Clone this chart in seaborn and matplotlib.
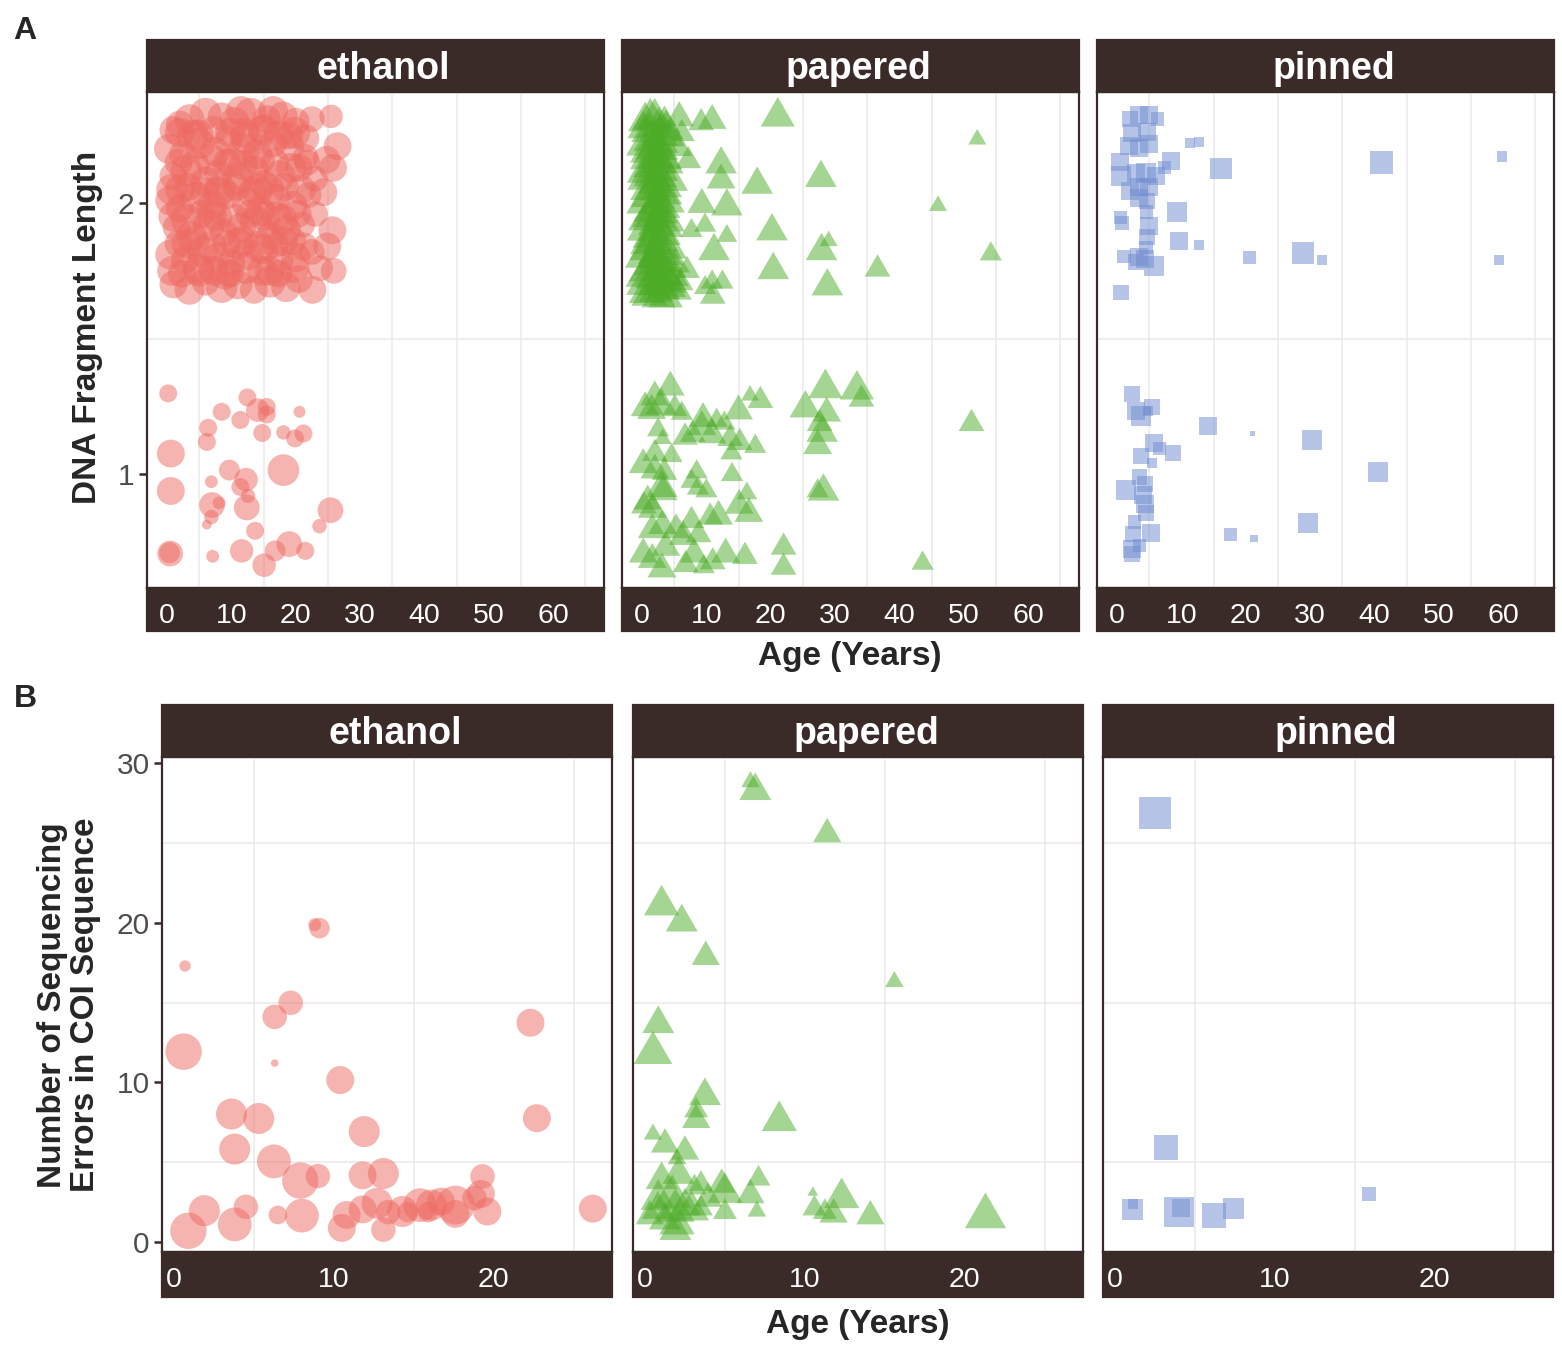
import numpy as np
import pandas as pd
import matplotlib
matplotlib.use("Agg")
import matplotlib.pyplot as plt
from matplotlib.patches import Rectangle
import seaborn as sns

# ---------------- data ----------------
storage = ["ethanol", "papered", "pinned"]
colors = {"ethanol": "#EE6A62", "papered": "#4CAC26", "pinned": "#6F8CD0"}

# Panel A: DNA fragment length class (1 / 2, jittered) vs age
eth_a_age = [1.0, 3.5, 6.0, 8.5, 10.5, 13.0, 15.5, 18.0, 20.0, 22.5, 25.5,
             0.3, 2.5, 5.0, 7.5, 9.5, 12.0, 14.0, 16.5, 19.0, 21.5, 26.5,
             1.0, 3.0, 6.0, 8.0, 11.0, 13.5, 15.0, 17.5, 20.5, 23.0, 25.8,
             0.5, 2.0, 4.5, 7.0, 9.5, 12.5, 14.5, 17.0, 19.5, 22.0, 24.3,
             1.5, 3.8, 6.5, 8.8, 11.5, 13.8, 16.0, 18.5, 21.0, 25.7,
             0.5, 2.8, 5.5, 8.0, 10.0, 12.5, 15.0, 17.5, 20.0, 22.5, 24.9,
             1.0, 3.5, 6.0, 8.5, 11.0, 13.5, 16.0, 18.5, 20.5, 22.6, 25.9,
             4.0, 10.0, 14.0, 7.0, 11.0, 16.0, 19.0, 5.0, 12.0, 9.0, 2.0, 17.0, 15.0, 3.0, 19.5, 8.0,
             2.0, 4.8, 7.3, 9.8, 12.3, 14.8, 17.3, 19.8, 21.5,
             1.8, 4.3, 6.8, 9.3, 11.8, 14.3, 16.8, 19.3, 21.8, 24.8,
             0.8, 3.3, 5.8, 8.3, 10.8, 13.3, 15.8, 18.3, 20.8,
             1.0, 3.0, 5.3, 7.8, 10.3, 12.8, 15.3, 17.8, 20.3, 23.0,
             1.8, 4.3, 6.8, 9.3, 11.8, 14.3, 16.8, 18.0, 21.3,
             0.8, 2.3, 4.8, 7.3, 9.8, 12.3, 14.8, 17.3, 19.8, 23.8,
             2.0, 11.5, 16.5,
             0.2, 8.5, 12.5, 14.1, 15.5, 15.5, 20.6, 6.4, 11.4, 6.2, 14.8, 18.1, 19.9, 21.2, 0.6,
             9.7, 12.3, 11.4, 12.6, 18.1, 6.9, 0.6, 7.0, 8.1, 12.4, 6.9, 6.2, 25.4, 23.7, 13.7,
             0.5, 0.4, 7.1, 11.6, 16.8, 19.0, 21.5, 15.1]
eth_a_len = [2.27, 2.31, 2.33, 2.32, 2.30, 2.33, 2.31, 2.32, 2.30, 2.31, 2.32,
             2.20, 2.18, 2.22, 2.19, 2.23, 2.20, 2.18, 2.22, 2.21, 2.17, 2.21,
             2.10, 2.12, 2.08, 2.11, 2.09, 2.12, 2.07, 2.10, 2.13, 2.09, 2.13,
             2.01, 1.98, 2.02, 1.99, 2.03, 2.00, 1.97, 2.02, 1.99, 2.03, 2.04,
             1.91, 1.88, 1.92, 1.89, 1.91, 1.93, 1.88, 1.90, 1.92, 1.90,
             1.81, 1.79, 1.82, 1.80, 1.78, 1.81, 1.83, 1.79, 1.80, 1.82, 1.84,
             1.70, 1.68, 1.71, 1.69, 1.70, 1.68, 1.71, 1.69, 1.72, 1.68, 1.75,
             2.25, 2.15, 2.05, 1.95, 1.85, 1.75, 2.25, 1.75, 2.26, 1.74, 2.05, 1.95, 2.27, 1.85, 1.86, 2.04,
             2.26, 2.25, 2.27, 2.26, 2.24, 2.27, 2.25, 2.26, 2.24,
             2.15, 2.14, 2.16, 2.15, 2.14, 2.16, 2.15, 2.13, 2.15, 2.16,
             2.05, 2.06, 2.04, 2.05, 2.06, 2.04, 2.05, 2.06, 2.05,
             1.95, 1.94, 1.96, 1.95, 1.94, 1.96, 1.95, 1.94, 1.96, 1.96,
             1.85, 1.86, 1.84, 1.85, 1.86, 1.84, 1.85, 1.86, 1.84,
             1.75, 1.74, 1.76, 1.75, 1.74, 1.76, 1.75, 1.74, 1.76, 1.76,
             2.29, 2.34, 2.34,
             1.298, 1.23, 1.283, 1.236, 1.248, 1.22, 1.23, 1.171, 1.2, 1.119, 1.152, 1.154, 1.132, 1.15, 1.076,
             1.015, 0.98, 0.953, 0.92, 1.015, 0.972, 0.938, 0.886, 0.894, 0.877, 0.842, 0.814, 0.867, 0.808, 0.791,
             0.707, 0.71, 0.697, 0.717, 0.717, 0.742, 0.717, 0.664]
eth_a_w = [4, 4.5, 5, 4, 4.5, 5, 4, 4.5, 4, 3.5, 3,
           4.5, 4, 5, 4.5, 4, 5, 4.5, 4, 4.5, 3.5, 4,
           4, 5, 4.5, 4, 5, 4.5, 4, 5, 4, 3.5, 4,
           4.5, 4, 5, 4.5, 4, 5, 4.5, 4, 4.5, 3.5, 4,
           4, 4.5, 5, 4, 4.5, 5, 4, 4.5, 3.5, 4,
           4.5, 4, 5, 4.5, 4, 5, 4.5, 4, 4.5, 3.5, 4,
           4, 4.5, 4, 5, 4.5, 4, 5, 4.5, 4, 4, 3.5,
           5, 4.5, 5, 4.5, 5, 4.5, 4, 5, 4.5, 5, 4.5, 4.5, 5, 4.5, 4, 5,
           4.5, 5, 4, 4.5, 5, 4, 4.5, 5, 4,
           4, 4.5, 5, 4, 4.5, 5, 4, 4.5, 3.5, 4,
           5, 4, 4.5, 5, 4, 4.5, 5, 4, 4.5,
           4.5, 5, 4, 4.5, 5, 4, 4.5, 5, 4, 3.5,
           4, 4.5, 5, 4, 4.5, 5, 4, 4.5, 4,
           4.5, 4, 5, 4.5, 4, 5, 4.5, 4, 4.5, 3.5,
           4, 4.5, 4.5,
           2, 2, 2, 3, 2, 2, 1.2, 2, 2, 2, 2, 1.5, 2, 2, 4,
           2.5, 3, 2, 1.5, 5, 1.3, 4, 3.5, 1.3, 3.5, 1.5, 1, 3.5, 1.5, 2,
           3.5, 2.5, 1.3, 3, 2.5, 3.5, 2, 3]

pap_a_age = [0.5, 2.0, 3.5, 1.0, 2.8, 4.2, 0.2, 1.8, 3.2, 0.8, 2.5, 4.0, 0.3, 1.5, 3.0,
             4.5, 1.0, 2.2, 3.6, 0.4, 2.0, 3.3, 1.2, 2.7, 4.0, 0.5, 1.9, 3.4, 1.0, 2.5,
             4.3, 0.2, 1.7, 3.0, 0.8, 2.3, 3.8, 0.4, 1.9, 3.3, 5.0, 1.2, 2.6, 4.6,
             1.3, 2.6, 0.2, 3.8, 1.5, 3.0, 0.6, 2.2, 3.6, 1.2, 2.8, 0.2, 2.0, 3.4, 0.9,
             2.6, 4.0, 1.5, 3.0, 0.3, 2.2, 3.7, 1.2, 2.8, 0.5, 2.0, 3.5, 1.3, 2.8, 4.2,
             0.3, 1.6, 3.0, 4.5, 0.8, 2.2, 3.7, 5.5, 5.2, 5.6,
             21.1, 52.1, 17.9, 27.8, 46.0, 20.2, 27.9, 29.0, 54.2, 11.2, 20.4, 36.6, 28.8, 13.2, 10.9,
             9.2, 12.3, 12.3, 13.2, 9.8, 7.7, 10.9, 9.8, 12.5, 11.0, 9.3, 7.2, 6.2, 5.8, 7.0, 6.0,
             4.4, 2.0, 0.5, 3.0, 5.1, 1.5, 6.2, 9.5, 9.3, 11.6, 12.8, 15.0, 16.8, 18.4, 2.5,
             3.2, 6.7, 7.9, 10.9, 13.7, 15.2, 17.6, 13.9, 2.0, 0.2, 2.0, 3.5, 4.6, 8.5, 14.0,
             7.7, 8.7, 10.0, 3.1, 3.3, 0.9, 0.3, 1.6, 16.3, 15.1, 16.6, 11.9, 10.6, 7.7, 5.3,
             3.2, 1.6, 6.4, 8.8, 28.2, 27.3, 28.5, 33.4, 34.1, 25.4, 28.7, 27.6, 28.0, 27.3, 22.0,
             22.0, 43.6, 51.2, 0.2, 1.6, 3.1, 6.8, 9.6, 11.0, 13.0, 16.0, 8.1, 3.7]
pap_a_len = [2.32, 2.33, 2.31, 2.28, 2.27, 2.26, 2.23, 2.22, 2.21, 2.18, 2.17, 2.16, 2.13, 2.12, 2.11,
             2.10, 2.07, 2.06, 2.05, 2.02, 2.01, 2.00, 1.97, 1.96, 1.95, 1.92, 1.91, 1.90, 1.87, 1.86,
             1.85, 1.82, 1.81, 1.80, 1.77, 1.76, 1.75, 1.72, 1.71, 1.70, 1.74, 1.68, 1.67, 1.70,
             2.33, 2.30, 2.29, 2.29, 2.25, 2.24, 2.20, 2.19, 2.18, 2.15, 2.14, 2.10, 2.09, 2.08, 2.04,
             2.03, 2.02, 1.99, 1.98, 1.95, 1.94, 1.93, 1.89, 1.88, 1.84, 1.83, 1.83, 1.79, 1.78, 1.78,
             1.75, 1.74, 1.73, 1.72, 1.69, 1.69, 1.67, 1.69, 1.79, 2.22,
             2.337, 2.245, 2.085, 2.11, 2.0, 1.913, 1.84, 1.87, 1.824, 1.84, 1.77, 1.77, 1.71, 2.005, 2.32,
             2.31, 2.16, 2.1, 1.89, 1.93, 1.91, 1.72, 1.70, 1.72, 1.67, 2.01, 2.17, 2.27, 2.33, 1.765, 1.72,
             1.336, 1.30, 1.26, 1.27, 1.255, 1.25, 1.236, 1.22, 1.19, 1.21, 1.2, 1.248, 1.30, 1.285, 1.175,
             1.14, 1.15, 1.16, 1.16, 1.145, 1.13, 1.114, 1.09, 1.09, 1.05, 1.03, 1.02, 1.08, 1.02, 1.01,
             0.985, 0.96, 0.95, 0.966, 0.95, 0.916, 0.896, 0.885, 0.94, 0.9, 0.87, 0.86, 0.855, 0.842, 0.81,
             0.825, 0.81, 0.785, 0.79, 0.953, 0.95, 1.335, 1.33, 1.29, 1.26, 1.24, 1.2, 1.17, 1.12, 0.744,
             0.67, 0.683, 1.2, 0.72, 0.70, 0.665, 0.68, 0.67, 0.69, 0.72, 0.71, 0.72, 0.745]
pap_a_w = [4, 4.5, 3.5, 4, 4.5, 3.5, 4, 4.5, 3.5, 4, 4.5, 3.5, 4, 4.5, 3.5,
           4, 4.5, 3.5, 4, 4.5, 3.5, 4, 4.5, 3.5, 4, 4.5, 3.5, 4, 4.5, 3.5,
           4, 4.5, 3.5, 4, 4.5, 3.5, 4, 4.5, 3.5, 4, 3, 4.5, 4, 3,
           4.5, 4, 3.5, 4, 4.5, 4, 3.5, 4.5, 4, 4, 4.5, 3.5, 4, 4.5, 4,
           3.5, 4, 4.5, 4, 3.5, 4.5, 4, 4, 4.5, 3.5, 4, 4.5, 4, 3.5, 4,
           4.5, 4, 4, 3.5, 4.5, 4, 4, 3, 3, 3,
           4, 1.5, 3.5, 3.5, 1.5, 3.5, 3.5, 1.5, 2, 3.5, 3.5, 2.5, 3.5, 3.5, 3,
           2.5, 3.5, 3, 1.8, 2, 2, 2, 2, 2, 2.5, 3, 2.5, 2.5, 3, 2.5, 2.5,
           3, 3, 3, 3.5, 2.5, 3, 2, 3, 3, 2, 2, 3, 1.5, 2.5, 2,
           1.5, 2.5, 2.5, 3, 2.5, 2.5, 2, 2, 2.5, 3, 3, 2.5, 2, 2, 2,
           2, 2, 2, 3.5, 3, 3, 2.5, 3, 1.8, 3, 3, 3, 2.5, 2.5, 3,
           3, 3, 3, 2.5, 3.5, 2, 4, 4, 2.5, 3.5, 3, 2.5, 3.5, 3, 2.5,
           2.5, 2, 2.5, 3, 3, 3, 2.5, 2, 2.5, 3, 2.5, 3, 3]

pin_a_age = [3.5, 2.0, 5.0, 6.3, 2.4, 4.7, 1.9, 3.4, 5.0, 11.3, 12.7, 16.2, 41.1, 59.8, 0.4,
             8.4, 0.6, 2.9, 4.5, 6.1, 7.4, 3.5, 5.0, 2.0, 3.5, 4.7, 4.6, 9.4, 0.6, 0.8,
             5.0, 4.7, 9.7, 12.7, 20.6, 28.9, 31.8, 59.4, 1.1, 3.5, 4.3, 5.8, 2.9, 4.5, 0.6,
             2.3, 3.0, 3.7, 5.5, 4.8, 14.1, 21.1, 30.3, 5.8, 6.6, 8.7, 3.7, 5.5, 40.6, 1.4,
             3.5, 4.3, 4.0, 4.3, 4.5, 2.7, 29.7, 5.3, 2.5, 17.6, 21.3, 2.4, 2.3, 3.5]
pin_a_len = [2.324, 2.310, 2.324, 2.310, 2.258, 2.264, 2.211, 2.205, 2.218, 2.221, 2.225, 2.128, 2.149, 2.172, 2.152,
             2.155, 2.099, 2.112, 2.112, 2.099, 2.132, 2.059, 2.059, 2.046, 2.020, 2.007, 1.967, 1.967, 1.947, 1.927,
             1.914, 1.875, 1.861, 1.844, 1.799, 1.815, 1.791, 1.791, 1.804, 1.802, 1.795, 1.769, 1.782, 1.835, 1.670,
             1.296, 1.234, 1.214, 1.247, 1.234, 1.178, 1.150, 1.125, 1.115, 1.095, 1.078, 1.068, 1.042, 1.009, 0.943,
             0.989, 0.963, 0.923, 0.890, 0.857, 0.824, 0.820, 0.784, 0.778, 0.778, 0.762, 0.725, 0.705, 0.738]
pin_a_w = [3, 2.5, 3, 2, 3, 3, 3, 3, 3, 1.5, 1.5, 4, 4.5, 1.5, 3,
           3, 3.5, 3, 3.5, 3, 2, 3, 3, 3, 3, 2.5, 2, 3.5, 2, 2,
           3, 2.5, 3, 1.5, 2, 4, 1.5, 1.5, 2, 3, 3, 3.5, 2.5, 2, 2.5,
           2.5, 3, 3.5, 2.5, 1.5, 3, 1, 3.5, 3, 2, 2.5, 2.5, 1.5, 3.5, 3.5,
           2.5, 2.5, 3, 3, 2.5, 2, 3.5, 3, 2.5, 2, 1.2, 3, 2.5, 2]

# Panel B: number of sequencing errors in COI vs age
eth_b_age = [8.8, 9.1, 0.69, 7.3, 6.3, 22.3, 0.6, 6.3, 10.4, 3.6, 5.3, 22.7, 11.9, 3.8, 6.25,
             7.9, 9.0, 11.8, 13.1, 19.3, 19.2, 19.6, 1.9, 4.5, 3.8, 0.9, 6.5, 8.0, 10.5, 10.8,
             11.8, 12.7, 13.1, 13.4, 14.3, 15.4, 14.6, 16.1, 15.9, 17.6, 17.6, 18.8, 26.2, 16.7]
eth_b_err = [19.89, 19.67, 17.30, 14.99, 14.11, 13.74, 11.93, 11.21, 10.15, 8.02, 7.74, 7.76, 6.92, 5.82, 5.05,
             3.85, 4.13, 4.18, 4.29, 4.11, 3.01, 1.91, 1.96, 2.20, 1.10, 0.70, 1.69, 1.65, 0.88, 1.69,
             2.04, 2.42, 0.77, 1.87, 1.91, 2.31, 1.87, 2.31, 1.87, 2.31, 1.76, 2.75, 2.09, 2.53]
eth_b_w = [1.3, 2, 1.2, 2.5, 2.5, 3, 4.5, 1, 3, 3.5, 3.5, 3, 3.5, 3.5, 4,
           4.5, 2.5, 3, 3.5, 2.5, 3, 3, 3.5, 2.5, 4, 4.5, 1.8, 4, 3, 3,
           3, 3.5, 2.5, 2.5, 3.5, 4, 2, 3.5, 2, 5, 3, 2.5, 3, 3]

pap_b_age = [6.6, 6.9, 11.4, 1.04, 2.3, 3.8, 15.6, 0.83, 0.5, 3.75, 3.2, 3.2, 8.4, 0.5, 1.25,
             2.5, 2.0, 1.04, 2.1, 0.83, 1.7, 1.9, 2.5, 3.1, 3.5, 2.9, 0.3, 1.25, 2.0, 1.9,
             3.5, 4.8, 5.0, 5.0, 6.6, 7.1, 7.0, 10.5, 10.6, 11.25, 11.8, 12.3, 14.1, 21.3, 3.95, 0.8]
pap_b_err = [29.01, 28.57, 25.82, 21.43, 20.33, 18.13, 16.48, 13.96, 12.20, 9.45, 8.46, 7.91, 7.91, 6.92, 6.37,
             5.93, 5.38, 4.18, 4.51, 2.97, 3.19, 2.31, 2.53, 3.63, 3.85, 2.31, 1.87, 1.65, 1.43, 0.99,
             2.31, 3.85, 3.41, 2.09, 3.19, 4.18, 2.09, 3.19, 2.31, 2.09, 1.98, 3.08, 1.87, 1.98, 2.97, 2.31]
pap_b_w = [1.5, 3, 2.5, 3.5, 3, 2.5, 1.5, 3, 4, 3, 2, 2.5, 3.5, 1.5, 2.5,
           2.5, 1.5, 3, 3, 3.5, 4, 4, 3, 2, 2, 3.5, 2.5, 3, 3.5, 3,
           2, 2.5, 3.5, 2, 2.5, 2, 1.5, 1, 2, 2, 2.5, 3.5, 2.5, 4.5, 2.5, 3]

pin_b_age = [2.5, 3.2, 15.9, 1.1, 1.15, 4.0, 4.1, 6.2, 7.4]
pin_b_err = [26.88, 5.93, 3.01, 2.04, 2.37, 1.87, 2.13, 1.65, 2.09]
pin_b_w = [4.5, 3, 1.5, 2.5, 1.2, 4, 2, 3, 2.5]


def frame(store, age, val, w):
    return pd.DataFrame({"storage": store, "age": age, "value": val, "w": w})


dfA = pd.concat([frame("ethanol", eth_a_age, eth_a_len, eth_a_w),
                 frame("papered", pap_a_age, pap_a_len, pap_a_w),
                 frame("pinned", pin_a_age, pin_a_len, pin_a_w)])
dfB = pd.concat([frame("ethanol", eth_b_age, eth_b_err, eth_b_w),
                 frame("papered", pap_b_age, pap_b_err, pap_b_w),
                 frame("pinned", pin_b_age, pin_b_err, pin_b_w)])

# ---------------- style ----------------
sns.set_style("white")
plt.rcParams["font.family"] = ["Liberation Sans", "DejaVu Sans"]
dark = "#3a2b29"
tri = [(0, 0.5), (-0.577, -0.5), (0.577, -0.5)]
markers = {"ethanol": "o", "papered": tri, "pinned": "s"}
sizesA = {"ethanol": (50, 520), "papered": (80, 780), "pinned": (15, 320)}
sizesB = {"ethanol": (30, 780), "papered": (60, 1000), "pinned": (25, 600)}

W, H = 1562, 1346
fig = plt.figure(figsize=(W / 100, H / 100), dpi=100)


def facet(ax, d, store, sizes, xlim, ylim, xt, xm, yt, ym, first, strip_h, band_h, w_px, h_px):
    ax.set_axisbelow(True)
    sns.scatterplot(data=d, x="age", y="value", size="w", sizes=sizes, size_norm=(1, 5),
                    color=colors[store], marker=markers[store], alpha=0.5,
                    edgecolor="none", linewidth=0, legend=False, ax=ax)
    ax.set_xlim(xlim)
    ax.set_ylim(ylim)
    ax.set_xticks(xt)
    ax.set_xticks(xm, minor=True)
    ax.set_yticks(yt)
    ax.set_yticks(ym, minor=True)
    ax.grid(False, which="major")
    ax.grid(True, which="minor", color="#ebebeb", lw=1.2)
    ax.tick_params(which="minor", length=0)
    ax.tick_params(axis="x", which="major", length=5, width=1.6, color="white",
                   labelcolor="white", labelsize=20.5, pad=6)
    ax.tick_params(axis="y", which="major", length=6, width=1.8, color=dark,
                   labelcolor="#4d4d4d", labelsize=21.5, pad=3, left=first, labelleft=first)
    for sp in ax.spines.values():
        sp.set_color(dark)
        sp.set_linewidth(1.6)
    ax.add_patch(Rectangle((0, 1), 1, strip_h, transform=ax.transAxes, clip_on=False,
                           facecolor=dark, edgecolor=dark, lw=1.6, zorder=0.1))
    ax.add_patch(Rectangle((0, -band_h), 1, band_h, transform=ax.transAxes, clip_on=False,
                           facecolor=dark, edgecolor=dark, lw=1.6, zorder=0.1))
    ax.text(0.5 + 8 / w_px, 1 + strip_h / 2 - 3 / h_px, store, transform=ax.transAxes,
            ha="center", va="center", color="white", fontsize=27, fontweight="bold")
    ax.set_xlabel("")
    ax.set_ylabel("")


# panel A
leftsA = [147, 622, 1097]
for i, store in enumerate(storage):
    ax = fig.add_axes([leftsA[i] / W, 1 - 588 / H, 457 / W, 496 / H])
    facet(ax, dfA[dfA.storage == store], store, sizesA[store],
          (-3.1, 67.9), (0.58, 2.41), range(0, 61, 10), range(5, 66, 10),
          [1, 2], [1.5], i == 0, 52 / 496, 43 / 496, 457, 496)

# panel B
leftsB = [162, 633, 1103]
for i, store in enumerate(storage):
    ax = fig.add_axes([leftsB[i] / W, 1 - 1252 / H, 450 / W, 495 / H])
    facet(ax, dfB[dfB.storage == store], store, sizesB[store],
          (-0.75, 27.4), (-0.63, 30.4), [0, 10, 20], [5, 15, 25],
          [0, 10, 20, 30], [5, 15, 25], i == 0, 52 / 495, 45 / 495, 450, 495)

fig.text(25 / W, 1 - 31 / H, "A", fontsize=23, fontweight="bold", ha="center", va="center")
fig.text(25 / W, 1 - 699 / H, "B", fontsize=23, fontweight="bold", ha="center", va="center")
fig.text(88 / W, 1 - 327 / H, "DNA Fragment Length", rotation=90, fontsize=24,
         fontweight="bold", ha="center", va="center")
fig.text(850 / W, 1 - 656 / H, "Age (Years)", fontsize=24, fontweight="bold",
         ha="center", va="center")
fig.text(69 / W, 1 - 1005 / H, "Number of Sequencing\nErrors in COI Sequence", rotation=90,
         fontsize=24, fontweight="bold", ha="center", va="center", linespacing=1.08)
fig.text(858 / W, 1 - 1324 / H, "Age (Years)", fontsize=24, fontweight="bold",
         ha="center", va="center")

fig.savefig("out.png", dpi=100)
